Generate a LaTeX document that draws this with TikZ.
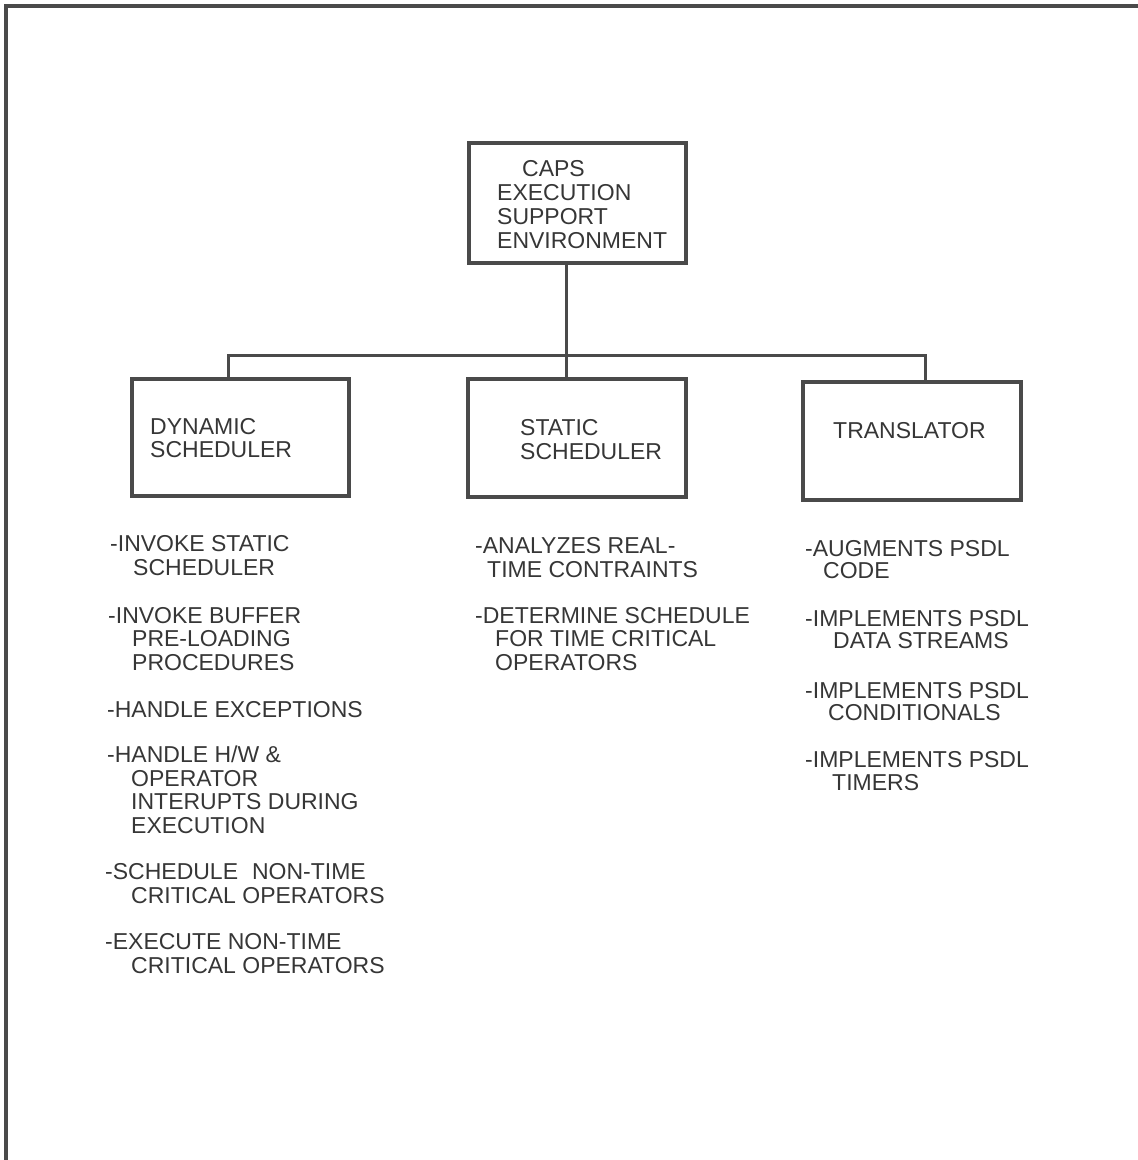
\documentclass[tikz,border=0pt]{standalone}
\usepackage{fontspec}
\setmainfont{Liberation Sans}
\definecolor{linegray}{HTML}{4A4A4A}
\definecolor{txtgray}{HTML}{363636}
\tikzset{
  frameline/.style={draw=linegray, line width=3.2pt},
  conn/.style={draw=linegray, line width=3pt},
  box/.style={draw=linegray, line width=3.2pt, rectangle, inner sep=0pt},
  txt/.style={anchor=base west, inner sep=0pt, align=left, text=txtgray,
    font=\fontsize{23}{23.4}\selectfont},
}
\begin{document}
\begin{tikzpicture}[x=1pt,y=-1pt]
\useasboundingbox (0,0) rectangle (1138,1160);
% outer frame (top and left edges only)
\coordinate (frTR) at (1138,6);
\coordinate (frTL) at (6,6);
\coordinate (frBL) at (6,1160);
\draw[frameline] (frTR) -- (frTL) -- (frBL);

% boxes
\node[box, minimum width=217pt, minimum height=120pt] (caps)  at (577.5,203) {};
\node[box, minimum width=217pt, minimum height=117pt] (dyn)   at (240.5,437.5) {};
\node[box, minimum width=218pt, minimum height=118pt] (stat)  at (577,438) {};
\node[box, minimum width=218pt, minimum height=118pt] (trans) at (912,441) {};

% box texts (anchored at the baseline of the last line)
\node[txt, font=\fontsize{23}{23.7}\selectfont] (capsT) at (497,248) {\hspace*{25pt}CAPS\\EXECUTION\\SUPPORT\\ENVIRONMENT};
\node[txt, font=\fontsize{23}{22.5}\selectfont] (dynT) at (150,457) {DYNAMIC\\SCHEDULER};
\node[txt, font=\fontsize{23}{24}\selectfont] (statT) at (520,459) {STATIC\\SCHEDULER};
\node[txt] (transT) at (833,438) {TRANSLATOR};

% connectors
\coordinate (bus) at (567,355);
\draw[conn] ([xshift=-11.5pt]caps.south) -- ([xshift=-11.5pt]caps.south |- stat.north);
\draw[conn] ([xshift=-12.5pt]dyn.north) |- (bus) -| ([xshift=13pt]trans.north);

% dynamic scheduler list
\node[txt] (d1) at (110,575) {-INVOKE STATIC\\\hspace*{23pt}SCHEDULER};
\node[txt] (d2) at (108,670) {-INVOKE BUFFER\\\hspace*{24pt}PRE-LOADING\\\hspace*{24pt}PROCEDURES};
\node[txt] (d3) at (107,717) {-HANDLE EXCEPTIONS};
\node[txt] (d4) at (107,833) {-HANDLE H/W \&\\\hspace*{24pt}OPERATOR\\\hspace*{24pt}INTERUPTS DURING\\\hspace*{24pt}EXECUTION};
\node[txt] (d5) at (105,903) {-SCHEDULE\hspace{14pt}NON-TIME\\\hspace*{26pt}CRITICAL OPERATORS};
\node[txt] (d6) at (105,973) {-EXECUTE NON-TIME\\\hspace*{26pt}CRITICAL OPERATORS};

% static scheduler list
\node[txt] (s1) at (475,577) {-ANALYZES REAL-\\\hspace*{12pt}TIME CONTRAINTS};
\node[txt] (s2) at (475,670) {-DETERMINE SCHEDULE\\\hspace*{20pt}FOR TIME CRITICAL\\\hspace*{20pt}OPERATORS};

% translator list
\node[txt, font=\fontsize{23}{22}\selectfont] (t1) at (805,578) {-AUGMENTS PSDL\\\hspace*{18pt}CODE};
\node[txt, font=\fontsize{23}{22}\selectfont] (t2) at (805,648) {-IMPLEMENTS PSDL\\\hspace*{28pt}DATA STREAMS};
\node[txt, font=\fontsize{23}{22}\selectfont] (t3) at (805,720) {-IMPLEMENTS PSDL\\\hspace*{23pt}CONDITIONALS};
\node[txt, font=\fontsize{23}{23}\selectfont] (t4) at (805,790) {-IMPLEMENTS PSDL\\\hspace*{27pt}TIMERS};
\end{tikzpicture}
\end{document}
